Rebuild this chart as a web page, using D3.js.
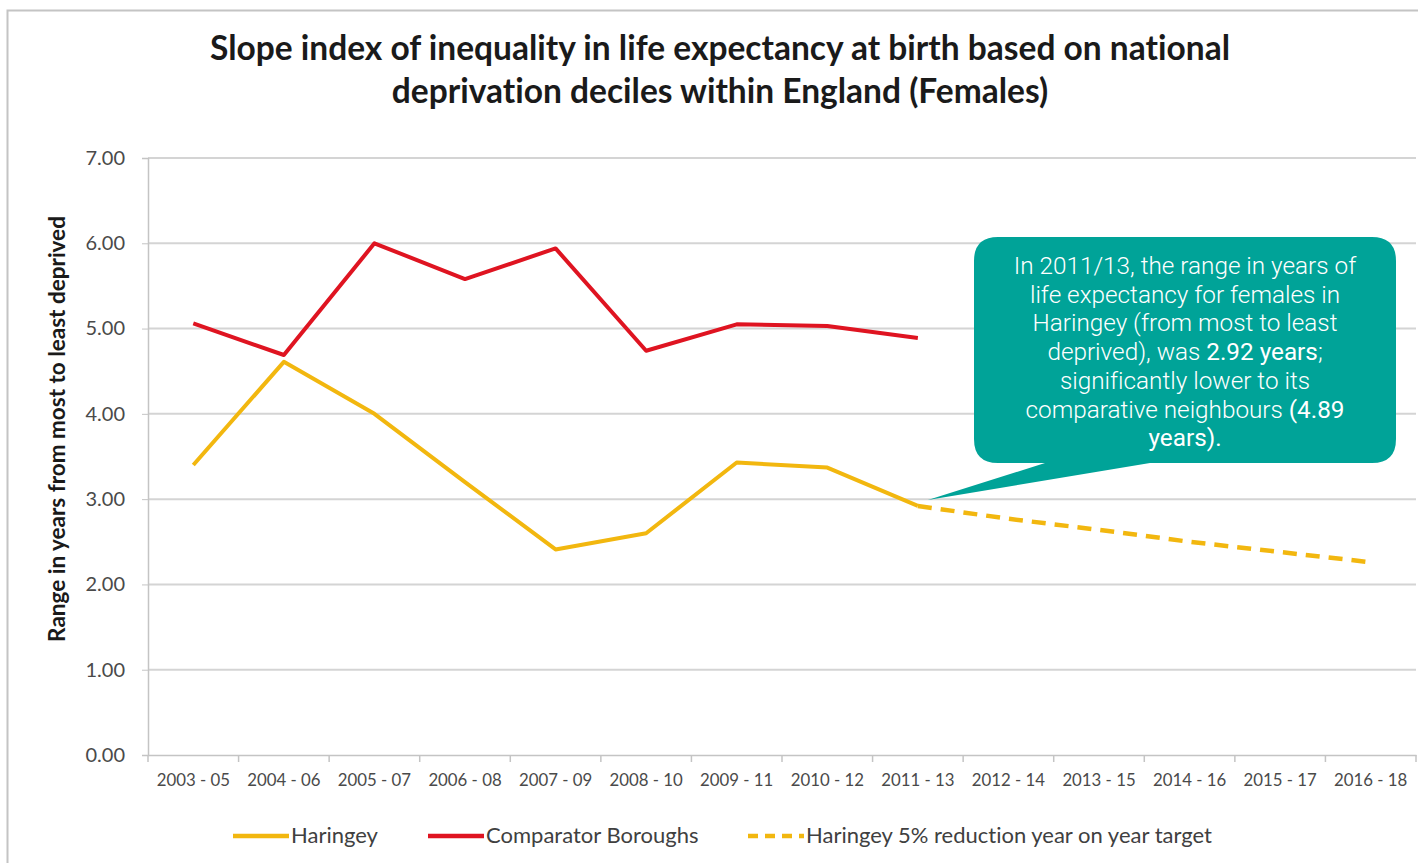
<!DOCTYPE html>
<html><head><meta charset="utf-8">
<script src="https://cdn.jsdelivr.net/npm/d3@7"></script>
<style>
body{margin:0;background:#fff;}
svg{display:block;font-variant-ligatures:none;}
</style></head>
<body>
<svg id="c" width="1418" height="863"></svg>
<script>
const categories = ["2003 - 05","2004 - 06","2005 - 07","2006 - 08","2007 - 09","2008 - 10","2009 - 11","2010 - 12","2011 - 13","2012 - 14","2013 - 15","2014 - 16","2015 - 17","2016 - 18"];
const haringey = [3.40, 4.61, 4.00, 3.20, 2.41, 2.60, 3.43, 3.37, 2.92];
const comparator = [5.06, 4.69, 6.00, 5.58, 5.94, 4.74, 5.05, 5.03, 4.89];
const targetCats = ["2011 - 13","2012 - 14","2013 - 15","2014 - 16","2015 - 17","2016 - 18"];
const target = [2.92, 2.77, 2.64, 2.50, 2.38, 2.26];
const yTicks = [0,1,2,3,4,5,6,7];
const titleLines = ["Slope index of inequality in life expectancy at birth based on national","deprivation deciles within England (Females)"];
const yTitle = "Range in years from most to least deprived";
const legendItems = ["Haringey","Comparator Boroughs","Haringey 5% reduction year on year target"];

const svg = d3.select("#c");
const font = "Lato, 'Liberation Sans', sans-serif";

// outer frame
svg.append("rect").attr("x",7.5).attr("y",10.5).attr("width",1420).attr("height",860)
  .attr("fill","#fff").attr("stroke","#c4c4c4").attr("stroke-width",2);

const L=148, R=1416, T=158, B=755;
const x = d3.scaleBand().domain(categories).range([L,R]);
const y = d3.scaleLinear().domain([0,7]).range([B,T]);
const cx = c => x(c)+x.bandwidth()/2;

// title
svg.append("g").selectAll("text").data(titleLines).join("text")
  .attr("x",720).attr("y",(d,i)=>60+i*43).attr("text-anchor","middle")
  .attr("font-family",font).attr("font-weight",700).attr("font-size",33.5).attr("fill","#1a1a1a")
  .text(d=>d);

// gridlines
svg.append("g").selectAll("line").data(yTicks.filter(d=>d>0)).join("line")
  .attr("x1",L).attr("x2",R).attr("y1",d=>y(d)).attr("y2",d=>y(d))
  .attr("stroke","#d4d4d4").attr("stroke-width",2);

// y axis
const yAxis = svg.append("g").attr("transform",`translate(${L},0)`)
  .call(d3.axisLeft(y).tickValues(yTicks).tickFormat(d3.format(".2f")).tickSize(6).tickPadding(17));
yAxis.select(".domain").attr("stroke","#c4c4c4").attr("stroke-width",1.5);
yAxis.selectAll(".tick line").attr("stroke","#c4c4c4");
yAxis.selectAll("text").attr("font-family",font).attr("font-size",20).attr("fill","#4a4a4a");

// x axis
const xAxis = svg.append("g").attr("transform",`translate(0,${B})`)
  .call(d3.axisBottom(x).tickSize(0).tickPadding(19));
xAxis.select(".domain").attr("stroke","#c4c4c4").attr("stroke-width",1.5);
xAxis.selectAll("text").attr("font-family",font).attr("font-size",16.8).attr("fill","#4a4a4a");
// category separator ticks
svg.append("g").selectAll("line").data(categories.concat(["end"])).join("line")
  .attr("x1",(d,i)=>L+i*x.bandwidth()).attr("x2",(d,i)=>L+i*x.bandwidth())
  .attr("y1",B).attr("y2",B+7).attr("stroke","#c4c4c4").attr("stroke-width",1.5);

// y title
svg.append("text").attr("transform",`translate(65,${429}) rotate(-90)`)
  .attr("text-anchor","middle").attr("font-family",font).attr("font-weight",700)
  .attr("font-size",22.5).attr("fill","#1a1a1a").text(yTitle);

const line = d3.line().x(d=>cx(d[0])).y(d=>y(d[1]));
const yellow = "#F2B70F", red = "#DF1421";

svg.append("path").datum(targetCats.map((c,i)=>[c,target[i]]))
  .attr("d",line).attr("fill","none").attr("stroke",yellow).attr("stroke-width",4.5)
  .attr("stroke-dasharray","14,9");
svg.append("path").datum(categories.slice(0,haringey.length).map((c,i)=>[c,haringey[i]]))
  .attr("d",line).attr("fill","none").attr("stroke",yellow).attr("stroke-width",4)
  .attr("stroke-linejoin","round");
svg.append("path").datum(categories.slice(0,comparator.length).map((c,i)=>[c,comparator[i]]))
  .attr("d",line).attr("fill","none").attr("stroke",red).attr("stroke-width",4)
  .attr("stroke-linejoin","round");

// callout
const teal = "#00A398";
const px = cx("2011 - 13")+10, py = y(2.92)-6;
const bx=974, by=237, bw=422, bh=226, r=24;
svg.append("path").attr("fill",teal)
  .attr("d",`M${bx+r},${by} H${bx+bw-r} Q${bx+bw},${by} ${bx+bw},${by+r} V${by+bh-r} Q${bx+bw},${by+bh} ${bx+bw-r},${by+bh}
   H${1150} L${px},${py} L${1045},${by+bh} H${bx+r} Q${bx},${by+bh} ${bx},${by+bh-r} V${by+r} Q${bx},${by} ${bx+r},${by} Z`);

const calloutLines = [
  [["In 2011/13, the range in years of",300]],
  [["life expectancy for females in",300]],
  [["Haringey (from most to least",300]],
  [["deprived), was ",300],["2.92 years",400],[";",300]],
  [["significantly lower to its",300]],
  [["comparative neighbours ",300],["(4.89",400]],
  [["years).",400]]
];
const ct = svg.append("g").attr("font-family","Roboto, sans-serif").attr("font-size",24.3).attr("fill","#fff");
calloutLines.forEach((segs,i)=>{
  const t = ct.append("text").attr("x",1185).attr("y",274+i*28.7).attr("text-anchor","middle");
  segs.forEach(s=>t.append("tspan").attr("font-weight",s[1]).text(s[0]));
});

// legend
const lg = svg.append("g").attr("font-family",font).attr("font-size",22).attr("fill","#404040");
const lx = [233,428,748];
const styles = [[yellow,null],[red,null],[yellow,"10,7"]];
legendItems.forEach((t,i)=>{
  lg.append("line").attr("x1",lx[i]).attr("x2",lx[i]+56).attr("y1",836).attr("y2",836)
    .attr("stroke",styles[i][0]).attr("stroke-width",4.5).attr("stroke-dasharray",styles[i][1]);
  lg.append("text").attr("x",lx[i]+58).attr("y",843).text(t);
});
</script>
</body></html>
